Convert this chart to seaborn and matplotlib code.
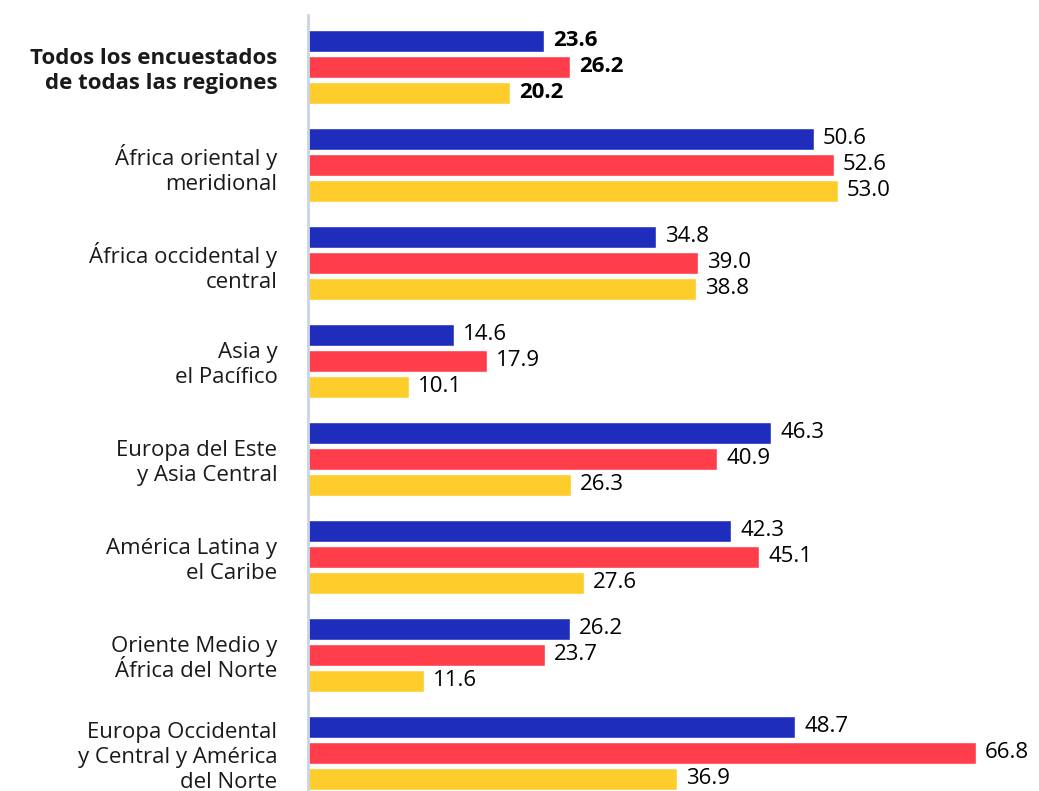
import matplotlib
matplotlib.use("Agg")
import matplotlib.pyplot as plt
import numpy as np
import pandas as pd
import seaborn as sns

# regions (top to bottom) and the three series
regiones = [
    "Todos los encuestados\nde todas las regiones",
    "África oriental y\nmeridional",
    "África occidental y\ncentral",
    "Asia y\nel Pacífico",
    "Europa del Este\ny Asia Central",
    "América Latina y\nel Caribe",
    "Oriente Medio y\nÁfrica del Norte",
    "Europa Occidental\ny Central y América\ndel Norte",
]
serie_azul = [23.6, 50.6, 34.8, 14.6, 46.3, 42.3, 26.2, 48.7]
serie_roja = [26.2, 52.6, 39.0, 17.9, 40.9, 45.1, 23.7, 66.8]
serie_amarilla = [20.2, 53.0, 38.8, 10.1, 26.3, 27.6, 11.6, 36.9]
series = ["serie 1", "serie 2", "serie 3"]
colores = ["#1f2dbd", "#ff3d4b", "#ffcd2b"]

df = pd.DataFrame({
    "region": regiones * 3,
    "serie": np.repeat(series, len(regiones)),
    "valor": serie_azul + serie_roja + serie_amarilla,
})

sns.set_style("white")
plt.rcParams["font.family"] = ["Open Sans", "DejaVu Sans"]

fig = plt.figure(figsize=(10.39, 7.91), dpi=100)
ax = fig.add_axes([308 / 1039, 0, 1 - 308 / 1039, 1 - 15 / 791])

sns.barplot(data=df, y="region", x="valor", hue="serie", palette=colores,
            orient="h", width=0.796, gap=0.155, legend=False, ax=ax,
            saturation=1)

for i, cont in enumerate(ax.containers):
    labels = ax.bar_label(cont, fmt="%.1f", padding=6.5, fontsize=16,
                          color="black")
    labels[0].set_fontweight("bold")

ax.set_xlim(0, 73.1)
ax.set_ylim(7.39, -0.53)
ax.set_xlabel("")
ax.set_ylabel("")
ax.set_xticks([])
ax.tick_params(axis="y", length=0, pad=22, labelsize=16, labelcolor="#1a1a1a")
for lab in ax.get_yticklabels():
    lab.set_horizontalalignment("right")
    lab.set_linespacing(1.24)
ax.get_yticklabels()[0].set_fontweight("bold")

for s in ["top", "right", "bottom"]:
    ax.spines[s].set_visible(False)
ax.spines["left"].set_color("#c8d4e6")
ax.spines["left"].set_linewidth(2)

fig.savefig("out.png", dpi=100)
